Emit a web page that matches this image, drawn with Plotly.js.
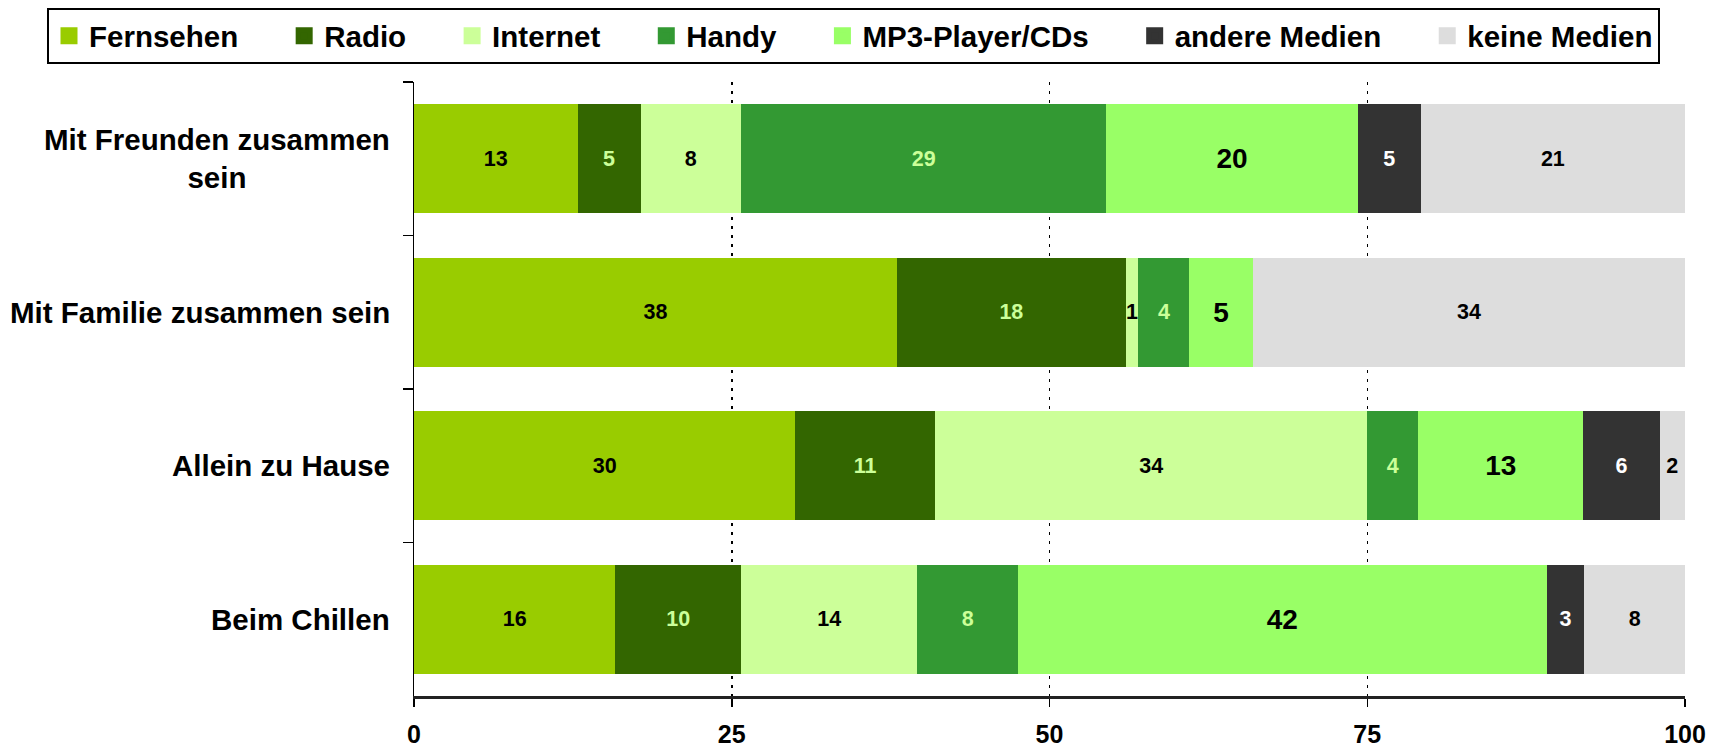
<!DOCTYPE html>
<html><head><meta charset="utf-8">
<script src="https://cdn.plot.ly/plotly-3.0.1.min.js"></script>
<style>html,body{margin:0;padding:0;background:#fff;} #chart{width:1719px;height:748px;}</style>
</head><body><div id="chart"></div>
<script>
// ---- data ----
const categories = ["Mit Freunden zusammen sein", "Mit Familie zusammen sein", "Allein zu Hause", "Beim Chillen"];
const categoryLabels = ["Mit Freunden zusammen<br>sein", "Mit Familie zusammen sein", "Allein zu Hause", "Beim Chillen"];
const seriesNames = ["Fernsehen", "Radio", "Internet", "Handy", "MP3-Player/CDs", "andere Medien", "keine Medien"];
const fernsehen = [13, 38, 30, 16];
const radio     = [5, 18, 11, 10];
const internet  = [8, 1, 34, 14];
const handy     = [29, 4, 4, 8];
const mp3       = [20, 5, 13, 42];
const andere    = [5, 0, 6, 3];
const keine     = [21, 34, 2, 8];
const xTicks    = [0, 25, 50, 75, 100];

// ---- styles ----
const FONT = "Liberation Sans, Arial, sans-serif";
const seriesValues = [fernsehen, radio, internet, handy, mp3, andere, keine];
const colors     = ["#99CC00", "#336600", "#CCFF99", "#339933", "#99FF66", "#333333", "#DDDDDD"];
const textColors = ["#000000", "#CCFF99", "#000000", "#CCFF99", "#000000", "#FFFFFF", "#000000"];
const textSizes  = [21.5, 21.5, 21.5, 21.5, 28, 21.5, 21.5];
const legendPad  = "\u00a0".repeat(5);

const W = 1719, H = 748;
const M = {l: 414, r: 34, t: 82, b: 52, autoexpand: false};
const plotW = W - M.l - M.r, plotH = H - M.t - M.b;

// visible bars (legend entries come from the swatch traces below)
const barTraces = seriesNames.map((name, i) => ({
  type: "bar",
  orientation: "h",
  name: name,
  legendgroup: name,
  showlegend: false,
  y: categories,
  x: seriesValues[i],
  text: seriesValues[i].map(v => v > 0 ? String(v) : ""),
  textposition: "inside",
  insidetextanchor: "middle",
  constraintext: "none",
  textangle: 0,
  textfont: {family: FONT, size: textSizes[i], color: textColors[i], weight: "bold"},
  insidetextfont: {family: FONT, size: textSizes[i], color: textColors[i], weight: "bold"},
  marker: {color: colors[i], line: {width: 0}},
  hoverinfo: "skip"
}));

// legend swatches (larger square, like the reference)
const legendTraces = seriesNames.map((name, i) => ({
  type: "bar",
  orientation: "h",
  name: i < seriesNames.length - 1 ? name + legendPad : name,
  legendgroup: name,
  showlegend: true,
  y: [categories[0]],
  x: [null],
  marker: {color: colors[i], line: {width: 5, color: colors[i]}},
  hoverinfo: "skip"
}));

const annotations = categories.map((c, i) => ({
  xref: "paper", x: 0, xshift: -22, xanchor: "right",
  yref: "y", y: c, yanchor: "middle",
  text: categoryLabels[i], align: "center", showarrow: false,
  font: {family: FONT, size: 29.5, color: "#000", weight: "bold"}
}));

const layout = {
  width: W, height: H,
  margin: M,
  paper_bgcolor: "#fff", plot_bgcolor: "#fff",
  barmode: "stack", barnorm: "percent", bargap: 0.29,
  showlegend: true,
  legend: {
    orientation: "h", traceorder: "normal",
    xref: "paper", yref: "paper",
    x: (47 - M.l) / plotW, y: (H - M.b - 8) / plotH, xanchor: "left", yanchor: "top",
    bordercolor: "#000", borderwidth: 2, bgcolor: "#fff",
    font: {family: FONT, size: 29.5, color: "#000", weight: "bold"}
  },
  xaxis: {
    range: [0, 100], tickvals: xTicks, ticktext: xTicks.map(String),
    ticks: "outside", ticklen: 8, tickwidth: 1.5, tickcolor: "#000",
    showline: true, linecolor: "#222", linewidth: 3,
    showgrid: true, gridcolor: "#000", gridwidth: 1.5, griddash: "3px,6px",
    zeroline: false, ticklabelstandoff: 6,
    tickfont: {family: FONT, size: 25, color: "#000", weight: "bold"},
    fixedrange: true
  },
  yaxis: {
    type: "category", autorange: "reversed", showticklabels: false,
    ticks: "outside", tickson: "boundaries", ticklen: 10, tickwidth: 1.5, tickcolor: "#000",
    showline: true, linecolor: "#000", linewidth: 1.5,
    showgrid: false, zeroline: false, fixedrange: true
  },
  annotations: annotations
};

Plotly.newPlot("chart", barTraces.concat(legendTraces), layout, {displayModeBar: false, staticPlot: true});
</script>
</body></html>
